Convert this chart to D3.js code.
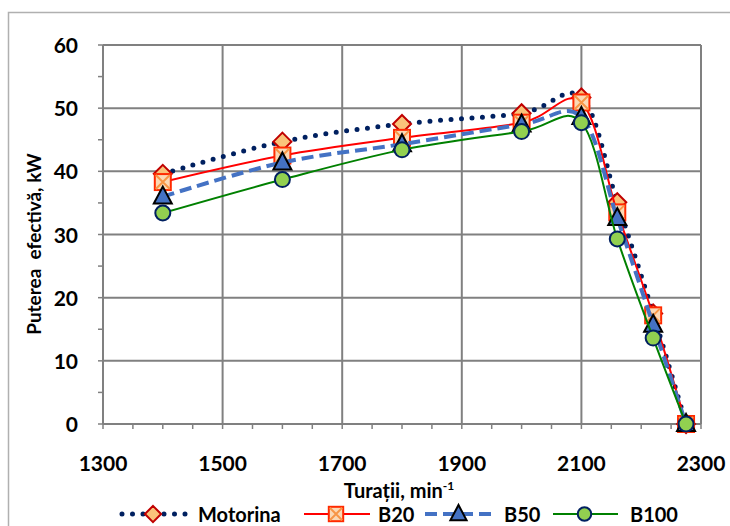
<!DOCTYPE html>
<html>
<head>
<meta charset="utf-8">
<script src="https://cdn.jsdelivr.net/npm/d3@7"></script>
<style>
  body { margin: 0; background: #fff; }
  svg { font-family: Lato, "Open Sans", sans-serif; font-weight: bold; }
</style>
</head>
<body>
<script>
// turații (rpm)
const rpm = [1400, 1600, 1800, 2000, 2100, 2160, 2220, 2275];

const motorina = [39.6, 44.7, 47.5, 49.2, 51.7, 35.1, 17.5, 0];
const b20 = [38.3, 42.5, 45.3, 47.7, 50.9, 33.5, 17.2, 0];
const b50 = [36.0, 41.4, 44.3, 47.4, 48.6, 32.6, 15.7, 0];
const b100 = [33.4, 38.7, 43.4, 46.3, 47.7, 29.3, 13.6, 0];

const xTicks = [1300, 1500, 1700, 1900, 2100, 2300];
const yTicks = [0, 10, 20, 30, 40, 50, 60];

const width = 730, height = 526;
const margin = {left: 103, right: 30, top: 45, bottom: 102};

const svg = d3.select('body').append('svg').attr('width', width).attr('height', height);

// outer chart frame
svg.append('rect').attr('x', 8.5).attr('y', 12.5).attr('width', 740).attr('height', 540)
    .attr('fill', 'none').attr('stroke', '#b0b0b0').attr('stroke-width', 1.5);

const x = d3.scaleLinear().domain([1300, 2300]).range([margin.left, width - margin.right + 1]);
const y = d3.scaleLinear().domain([0, 60]).range([height - margin.bottom, margin.top]);

const grid = svg.append('g');
grid.selectAll('.vg').data(xTicks).enter().append('line')
    .attr('x1', d => x(d)).attr('x2', d => x(d))
    .attr('y1', y(0)).attr('y2', y(60))
    .attr('stroke', '#808080').attr('stroke-width', 2);
grid.selectAll('.hg').data(yTicks).enter().append('line')
    .attr('x1', x(1300)).attr('x2', x(2300))
    .attr('y1', d => y(d)).attr('y2', d => y(d))
    .attr('stroke', '#808080').attr('stroke-width', 2);

// minor ticks
const xMinor = d3.range(1300, 2301, 50);
grid.selectAll('.xm').data(xMinor).enter().append('line')
    .attr('x1', d => x(d)).attr('x2', d => x(d))
    .attr('y1', y(0)).attr('y2', y(0) + 5)
    .attr('stroke', '#808080').attr('stroke-width', 1.5);
const yMinor = d3.range(0, 61, 5);
grid.selectAll('.ym').data(yMinor).enter().append('line')
    .attr('x1', x(1300) - 5).attr('x2', x(1300))
    .attr('y1', d => y(d)).attr('y2', d => y(d))
    .attr('stroke', '#808080').attr('stroke-width', 1.5);

// tick labels
svg.selectAll('.xl').data(xTicks).enter().append('text')
    .attr('x', d => x(d)).attr('y', y(0) + 47)
    .attr('text-anchor', 'middle').attr('font-size', 21).text(d => d);
svg.selectAll('.yl').data(yTicks).enter().append('text')
    .attr('x', x(1300) - 25).attr('y', d => y(d) + 8)
    .attr('text-anchor', 'end').attr('font-size', 21).text(d => d);

// axis titles
const xt = svg.append('text').attr('x', 399).attr('y', 498)
    .attr('text-anchor', 'middle').attr('font-size', 20);
xt.append('tspan').text('Turații, min');
xt.append('tspan').attr('dy', -8).attr('font-size', 12).text('-1');

svg.append('text').attr('transform', 'translate(41,' + 244 + ') rotate(-90)')
    .attr('text-anchor', 'middle').attr('font-size', 19).style('white-space', 'pre')
    .text('Puterea  efectivă, kW');

const curve = d3.curveCardinal.tension(0);

const series = [
  {name: 'Motorina', values: motorina, color: '#002060', width: 5, dash: '0 10.5', cap: 'round', marker: 'diamond'},
  {name: 'B20', values: b20, color: '#ff0000', width: 2, dash: null, cap: 'butt', marker: 'square'},
  {name: 'B50', values: b50, color: '#4472c4', width: 4, dash: '12 6', cap: 'butt', marker: 'triangle'},
  {name: 'B100', values: b100, color: '#008000', width: 2, dash: null, cap: 'butt', marker: 'circle'}
];

function drawMarker(g, type, cx, cy, k = 1) {
  if (type === 'diamond') {
    const r = 9 * k;
    g.append('path').attr('d', `M${cx},${cy - r}L${cx + r},${cy}L${cx},${cy + r}L${cx - r},${cy}Z`)
        .attr('fill', '#fac37a').attr('stroke', '#c00000').attr('stroke-width', 2);
  } else if (type === 'square') {
    const r = 8 * k;
    g.append('rect').attr('x', cx - r).attr('y', cy - r).attr('width', 2 * r).attr('height', 2 * r)
        .attr('fill', '#fbd9b5').attr('stroke', '#ff2a00').attr('stroke-width', 2);
    g.append('path').attr('d', `M${cx - r + 1},${cy - r + 1}L${cx + r - 1},${cy + r - 1}M${cx + r - 1},${cy - r + 1}L${cx - r + 1},${cy + r - 1}`)
        .attr('stroke', '#f79646').attr('stroke-width', 2);
  } else if (type === 'triangle') {
    g.append('path').attr('d', `M${cx},${cy - 10 * k}L${cx + 9 * k},${cy + 7 * k}L${cx - 9 * k},${cy + 7 * k}Z`)
        .attr('fill', '#4472c4').attr('stroke', '#000').attr('stroke-width', 2);
  } else {
    g.append('circle').attr('cx', cx).attr('cy', cy).attr('r', 7.5 * k)
        .attr('fill', '#92d050').attr('stroke', '#002060').attr('stroke-width', 2);
  }
}

const line = d3.line().x((d, i) => x(rpm[i])).y(d => y(d)).curve(curve);

series.forEach(s => {
  const g = svg.append('g');
  g.append('path').attr('d', line(s.values))
      .attr('fill', 'none').attr('stroke', s.color).attr('stroke-width', s.width)
      .attr('stroke-dasharray', s.dash).attr('stroke-linecap', s.cap);
  s.values.forEach((v, i) => drawMarker(g, s.marker, x(rpm[i]), y(v)));
});

// legend
const legendX = [120, 302, 423, 551];
const legendLen = [66, 68, 71, 67];
const legendText = [198, 378, 504, 630];
series.forEach((s, i) => {
  const g = svg.append('g');
  const ly = 514;
  g.append('line').attr('x1', legendX[i] + 2).attr('x2', legendX[i] + legendLen[i]).attr('y1', ly).attr('y2', ly)
      .attr('stroke', s.color).attr('stroke-width', s.width)
      .attr('stroke-dasharray', s.dash).attr('stroke-linecap', s.cap);
  drawMarker(g, s.marker, legendX[i] + legendLen[i] / 2, ly, 0.9);
  g.append('text').attr('x', legendText[i]).attr('y', ly + 8)
      .attr('font-size', 20).text(s.name);
});
</script>
</body>
</html>
